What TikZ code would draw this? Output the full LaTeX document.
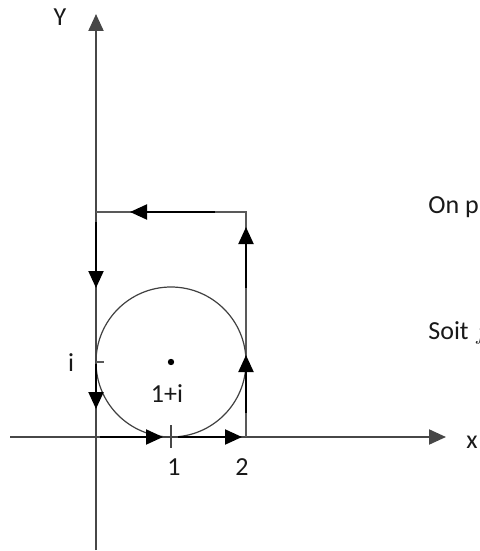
\documentclass[tikz,border=0pt]{standalone}
\usepackage{fontspec}
\setmainfont{Carlito}
\usetikzlibrary{arrows.meta}
\begin{document}
\begin{tikzpicture}[x=0.5pt,y=-0.5pt,
  axis/.style={draw=black!72, line width=1.05pt},
  thin/.style={draw=black!65, line width=0.55pt},
  flow/.style={draw=black, line width=1pt, -{Triangle[length=8.5pt,width=7.5pt]}},
  lbl/.style={font=\fontsize{13}{15}\selectfont, text=black!90, inner sep=0pt},
  txt/.style={font=\fontsize{13}{15}\selectfont, text=black!90, inner sep=0pt, anchor=base west}]
\clip (0,0) rectangle (480,551);
% key points
\coordinate (O) at (96,437);
\coordinate (xs) at (10,437);
\coordinate (xe) at (446,437);
\coordinate (ys) at (96,550);
\coordinate (ye) at (96,14);
\coordinate (P2) at (246,437);
\coordinate (P23) at (246,212);
\coordinate (P03) at (96,212);
\coordinate (C) at (171,362);
\coordinate (t1a) at (171,425);
\coordinate (t1b) at (171,448);
\coordinate (tia) at (96,362);
\coordinate (tib) at (104,362);
% axes
\draw[axis, -{Triangle[length=8.5pt,width=7.5pt]}] (xs) -- (xe);
\draw[axis, -{Triangle[length=8.5pt,width=7.5pt]}] (ys) -- (ye);
% thin contour
\draw[thin] (P2) -- (P23) -- (P03);
\draw[black!75, line width=0.6pt] (C) circle[radius=75];
% ticks
\draw[axis] (t1a) -- (t1b);
\draw[thin] (tia) -- (tib);
\fill[black] (C) circle[radius=3.2];
% flow arrows
\coordinate (a1s) at (100,437); \coordinate (a1e) at (163,437);
\coordinate (a2s) at (178,437); \coordinate (a2e) at (242,437);
\coordinate (a3s) at (246,413); \coordinate (a3e) at (246,355);
\coordinate (a4s) at (246,288); \coordinate (a4e) at (246,227);
\coordinate (a5s) at (215,212); \coordinate (a5e) at (130,212);
\coordinate (a6s) at (96,222);  \coordinate (a6e) at (96,288);
\coordinate (a7s) at (96,364);  \coordinate (a7e) at (96,409);
\draw[flow] (a1s) -- (a1e);
\draw[flow] (a2s) -- (a2e);
\draw[flow] (a3s) -- (a3e);
\draw[flow] (a4s) -- (a4e);
\draw[flow] (a5s) -- (a5e);
\draw[flow] (a6s) -- (a6e);
\draw[flow] (a7s) -- (a7e);
% labels
\node[lbl] (lY) at (60,17) {Y};
\node[lbl] (lx) at (472,442) {x};
\node[lbl] (li) at (71,363) {i};
\node[lbl] (lc) at (167,394) {1+i};
\node[lbl] (l1) at (174,467) {1};
\node[lbl] (l2) at (242,467) {2};
\node[txt] (t1) at (428,213) {On p};
\node[txt] (t2) at (428,339) {Soit $f$};
\end{tikzpicture}
\end{document}
